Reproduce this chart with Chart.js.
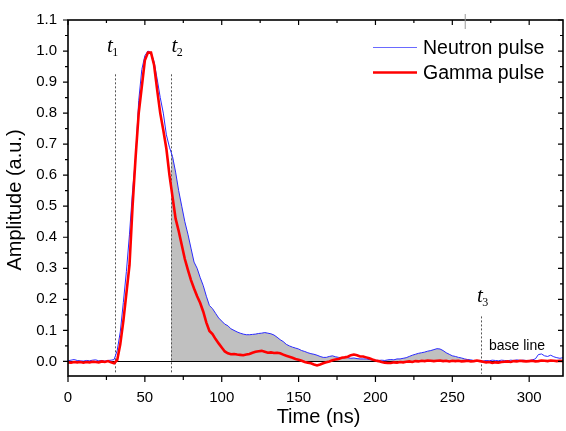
<!DOCTYPE html>
<html>
<head>
<meta charset="utf-8">
<script src="https://cdn.jsdelivr.net/npm/chart.js@4.4.1/dist/chart.umd.min.js"></script>
<style>
  body { margin: 0; background: #fff; }
  #wrap { width: 566px; height: 431px; }
</style>
</head>
<body>
<div id="wrap"><canvas id="pulse" width="566" height="431"></canvas></div>
<script>
// sampling grid of the digitiser (ns)
const sampleStep = 2;

// neutron pulse, normalised amplitude, one value every 2 ns from 0 ns
const neutron = [
  0.002, 0.004, 0.006, 0.003, 0.002, 0.001, 0.003, 0.002, 0.004, 0.005,
  0.002, 0.003, 0.001, 0.003, 0.004, 0.006, 0.035, 0.095, 0.190, 0.290,
  0.410, 0.550, 0.660, 0.840, 0.940, 0.985, 1.000, 0.995, 0.965, 0.910,
  0.850, 0.800, 0.730, 0.690, 0.660, 0.610, 0.550, 0.500, 0.450, 0.410,
  0.365, 0.320, 0.300, 0.270, 0.244, 0.210, 0.180, 0.170, 0.155, 0.140,
  0.130, 0.120, 0.115, 0.105, 0.100, 0.095, 0.091, 0.088, 0.086, 0.086,
  0.087, 0.088, 0.090, 0.091, 0.093, 0.091, 0.089, 0.085, 0.078, 0.070,
  0.064, 0.055, 0.050, 0.046, 0.043, 0.040, 0.035, 0.032, 0.028, 0.025,
  0.023, 0.020, 0.016, 0.013, 0.013, 0.016, 0.018, 0.015, 0.013, 0.012,
  0.013, 0.012, 0.010, 0.011, 0.009, 0.008, 0.008, 0.008, 0.006, 0.005,
  0.004, 0.003, 0.004, 0.003, 0.005, 0.006, 0.005, 0.008, 0.008, 0.010,
  0.012, 0.016, 0.020, 0.023, 0.026, 0.028, 0.030, 0.033, 0.035, 0.038,
  0.041, 0.040, 0.035, 0.028, 0.023, 0.018, 0.016, 0.013, 0.011, 0.008,
  0.006, 0.005, 0.003, 0.002, 0.002, 0.001, 0.003, 0.002, 0.004, 0.003,
  0.002, 0.004, 0.003, 0.002, 0.004, 0.003, 0.005, 0.003, 0.004, 0.003,
  0.003, 0.005, 0.008, 0.022, 0.024, 0.018, 0.016, 0.020, 0.015, 0.012,
  0.010, 0.012
];

// gamma pulse, same grid
const gamma = [
  -0.003, -0.004, -0.002, -0.003, -0.002, -0.004, -0.002, -0.003, -0.001, -0.002,
  -0.003, 0.000, -0.002, 0.001, -0.003, -0.006, 0.004, 0.055, 0.130, 0.220,
  0.310, 0.500, 0.660, 0.800, 0.885, 0.970, 0.995, 0.995, 0.955, 0.875,
  0.800, 0.745, 0.685, 0.600, 0.530, 0.460, 0.420, 0.375, 0.330, 0.295,
  0.262, 0.235, 0.210, 0.188, 0.160, 0.125, 0.098, 0.088, 0.072, 0.058,
  0.045, 0.032, 0.026, 0.023, 0.024, 0.022, 0.021, 0.020, 0.022, 0.024,
  0.028, 0.031, 0.033, 0.034, 0.031, 0.028, 0.029, 0.027, 0.028, 0.026,
  0.022, 0.018, 0.015, 0.012, 0.008, 0.005, 0.002, -0.002, -0.004, -0.006,
  -0.010, -0.013, -0.010, -0.006, -0.003, 0.000, 0.004, 0.006, 0.008, 0.012,
  0.013, 0.015, 0.020, 0.022, 0.020, 0.016, 0.016, 0.013, 0.010, 0.006,
  0.003, 0.001, -0.002, -0.004, -0.005, -0.005, -0.003, -0.004, -0.002, -0.003,
  -0.001, 0.000, -0.002, 0.001, 0.000, 0.002, 0.001, 0.003, 0.002, 0.001,
  0.002, 0.003, 0.001, 0.002, 0.000, 0.002, 0.001, 0.002, 0.000, 0.001,
  0.002, 0.000, 0.001, 0.003, 0.001, -0.001, -0.003, -0.002, -0.005, -0.003,
  -0.004, -0.002, -0.001, 0.000, -0.002, 0.001, 0.000, 0.002, 0.001, 0.000,
  0.001, 0.002, 0.000, 0.001, 0.003, 0.002, 0.001, 0.003, 0.002, 0.001,
  0.002, 0.001
];

// integration limits t1, t2, t3 (ns)
const markerTimes = [30.5, 67, 268.6];
const markerNames = ['1', '2', '3'];

const xTicks = [0, 50, 100, 150, 200, 250, 300];
const yTicks = [0.0, 0.1, 0.2, 0.3, 0.4, 0.5, 0.6, 0.7, 0.8, 0.9, 1.0, 1.1];

const seriesNames = ['Neutron pulse', 'Gamma pulse'];

const time = neutron.map((_, i) => i * sampleStep);
const toPoints = arr => arr.map((v, i) => ({ x: time[i], y: v }));

// tail region (t2..t3) of the neutron pulse, shaded
function neutronAt(t) {
  const i = Math.floor(t / sampleStep);
  const f = (t - time[i]) / sampleStep;
  return neutron[i] + (neutron[i + 1] - neutron[i]) * f;
}
const tailPoints = [{ x: markerTimes[1], y: neutronAt(markerTimes[1]) }];
time.forEach((t, i) => {
  if (t > markerTimes[1] && t < markerTimes[2]) tailPoints.push({ x: t, y: neutron[i] });
});
tailPoints.push({ x: markerTimes[2], y: neutronAt(markerTimes[2]) });

const FONT = "'Liberation Sans', Arial, sans-serif";
const SERIF = "'Liberation Serif', 'Times New Roman', serif";

const decor = {
  id: 'decor',
  afterDatasetDraw(chart, args) {
    if (args.index !== 2) return;
    const { ctx, chartArea: a, scales: { x, y } } = chart;
    ctx.save();
    // base line at zero
    ctx.strokeStyle = '#000';
    ctx.lineWidth = 1;
    const y0 = Math.round(y.getPixelForValue(0)) + 0.5;
    ctx.beginPath();
    ctx.moveTo(a.left, y0);
    ctx.lineTo(a.right, y0);
    ctx.stroke();
    // dotted limits
    const tops = [0.925, 0.925, 0.145];
    ctx.strokeStyle = '#555';
    ctx.setLineDash([2, 2]);
    markerTimes.forEach((t, i) => {
      const px = Math.round(x.getPixelForValue(t)) + 0.5;
      ctx.beginPath();
      ctx.moveTo(px, y.getPixelForValue(tops[i]));
      ctx.lineTo(px, y.getPixelForValue(-0.04));
      ctx.stroke();
    });
    ctx.restore();
  },
  afterDraw(chart) {
    const { ctx, chartArea: a, scales: { x, y } } = chart;
    ctx.save();
    // frame
    ctx.strokeStyle = '#000';
    ctx.lineWidth = 1.6;
    ctx.strokeRect(a.left, a.top, a.right - a.left, a.bottom - a.top);
    // ticks: outward on bottom/left, inward on top/right
    ctx.lineWidth = 1.2;
    ctx.beginPath();
    const xs = [];
    xTicks.forEach(v => { xs.push([v, 6]); xs.push([v + 25, 4]); });
    xs.forEach(([v, len]) => {
      if (v > x.max) return;
      const px = x.getPixelForValue(v);
      ctx.moveTo(px, a.bottom); ctx.lineTo(px, a.bottom + len);
      ctx.moveTo(px, a.top); ctx.lineTo(px, a.top + len - 1);
    });
    const ys = [[-0.05, 3]];
    yTicks.forEach(v => { ys.push([v, 5]); ys.push([v + 0.05, 3]); });
    ys.forEach(([v, len]) => {
      if (v < y.min - 1e-6 || v > y.max + 1e-6) return;
      const py = y.getPixelForValue(v);
      ctx.moveTo(a.left - len, py); ctx.lineTo(a.left, py);
      ctx.moveTo(a.right - len, py); ctx.lineTo(a.right, py);
    });
    ctx.stroke();

    // small grey mark near the top
    ctx.strokeStyle = '#999';
    ctx.lineWidth = 1;
    ctx.beginPath();
    ctx.moveTo(x.getPixelForValue(258.4), 14);
    ctx.lineTo(x.getPixelForValue(258.4), 29);
    ctx.stroke();

    // axis titles
    ctx.fillStyle = '#000';
    ctx.font = '20px ' + FONT;
    ctx.textAlign = 'center';
    ctx.textBaseline = 'alphabetic';
    ctx.fillText('Time (ns)', (a.left + a.right) / 2 + 3, 423);
    ctx.save();
    ctx.translate(21, (a.top + a.bottom) / 2 + 2);
    ctx.rotate(-Math.PI / 2);
    ctx.fillText('Amplitude (a.u.)', 0, 0);
    ctx.restore();

    // t labels
    const labelPos = [[-8, 52], [0.5, 52], [-4, 302]];
    ctx.textAlign = 'left';
    markerTimes.forEach((t, i) => {
      const px = x.getPixelForValue(t) + labelPos[i][0];
      const base = labelPos[i][1];
      ctx.font = 'italic 21px ' + SERIF;
      ctx.fillText('t', px, base);
      const w = ctx.measureText('t').width;
      ctx.font = '12px ' + SERIF;
      ctx.fillText(markerNames[i], px + w - 0.5, base + 4);
    });

    // base line note
    ctx.font = '14px ' + FONT;
    ctx.fillText('base line', 489, 349.5);

    // legend
    const colors = ['#6a6aff', '#ff0000'];
    const widths = [1, 2.6];
    const rows = [47, 72];
    ctx.font = '19.5px ' + FONT;
    seriesNames.forEach((name, i) => {
      ctx.strokeStyle = colors[i];
      ctx.lineWidth = widths[i];
      ctx.beginPath();
      ctx.moveTo(373, rows[i] + 0.5);
      ctx.lineTo(417, rows[i] + 0.5);
      ctx.stroke();
      ctx.fillStyle = '#000';
      ctx.fillText(name, 423, rows[i] + 6.5);
    });
    ctx.restore();
  }
};

Chart.defaults.font.family = FONT;
Chart.defaults.color = '#000';

new Chart(document.getElementById('pulse'), {
  type: 'line',
  data: {
    datasets: [
      {
        label: seriesNames[1],
        data: toPoints(gamma),
        borderColor: '#ff0000',
        borderWidth: 2.6,
        pointRadius: 0,
        fill: false
      },
      {
        label: seriesNames[0],
        data: toPoints(neutron),
        borderColor: '#2a2aff',
        borderWidth: 1,
        pointRadius: 0,
        fill: false
      },
      {
        label: 'tail',
        data: tailPoints,
        borderWidth: 0,
        borderColor: 'rgba(0,0,0,0)',
        backgroundColor: '#c0c0c0',
        pointRadius: 0,
        fill: 'origin'
      }
    ]
  },
  options: {
    responsive: false,
    animation: false,
    events: [],
    layout: { padding: { top: 11, right: 3, left: 0, bottom: 0 } },
    plugins: { legend: { display: false }, tooltip: { enabled: false } },
    scales: {
      x: {
        type: 'linear',
        min: 0,
        max: 322,
        grid: { display: false, drawTicks: false },
        border: { display: false },
        afterBuildTicks: s => { s.ticks = xTicks.map(v => ({ value: v })); },
        afterFit: s => { s.height = 55; },
        ticks: { padding: 13, font: { size: 15 }, maxRotation: 0, callback: v => String(v) }
      },
      y: {
        min: -0.047,
        max: 1.1,
        grid: { display: false, drawTicks: false },
        border: { display: false },
        afterBuildTicks: s => { s.ticks = yTicks.map(v => ({ value: v })); },
        afterFit: s => { s.width = 68; },
        ticks: { padding: 11, font: { size: 15 }, callback: v => Number(v).toFixed(1) }
      }
    }
  },
  plugins: [decor]
});
</script>
</body>
</html>
